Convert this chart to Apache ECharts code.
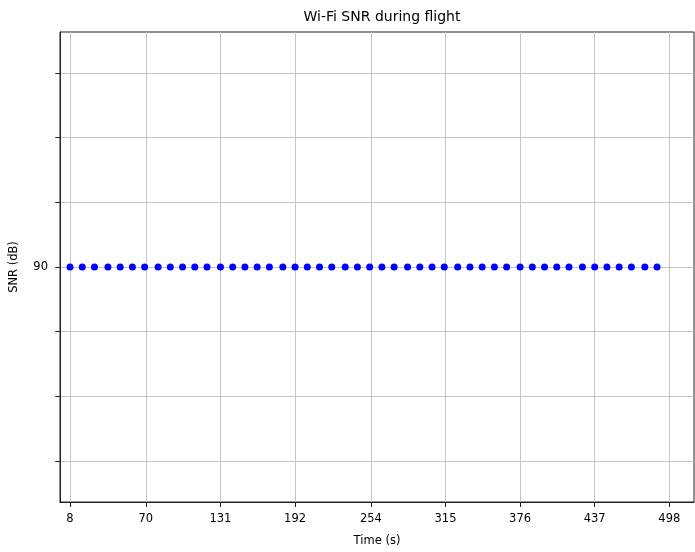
<!DOCTYPE html>
<html>
<head>
<meta charset="utf-8">
<script src="https://cdn.jsdelivr.net/npm/echarts@6/dist/echarts.min.js"></script>
<style>html,body{margin:0;padding:0;background:#fff;}#c{width:695px;height:552px;}</style>
</head>
<body>
<div id="c"></div>
<script>
const timeValues = [8,18,28,39,49,59,69,80,90,100,110,120,131,141,151,161,171,182,192,202,212,222,233,243,253,263,273,284,294,304,314,325,335,345,355,365,376,386,396,406,416,427,437,447,457,467,478,488];
const snrValues = [90,90,90,90,90,90,90,90,90,90,90,90,90,90,90,90,90,90,90,90,90,90,90,90,90,90,90,90,90,90,90,90,90,90,90,90,90,90,90,90,90,90,90,90,90,90,90,90];
const xTicks = [8,70,131,192,254,315,376,437,498];
const yTicks = [87,88,89,90,91,92,93];
const yLabelTicks = [90];

const chart = echarts.init(document.getElementById('c'), null, {renderer:'canvas'});
const font = 'DejaVu Sans';
chart.setOption({
  animation:false,
  backgroundColor:'#fff',
  title:{text:'Wi-Fi SNR during flight', left:377, top:5, textAlign:'center',
    textStyle:{fontFamily:font, fontSize:14, fontWeight:'normal', color:'#000'}},
  grid:{left:60, right:1, top:32, bottom:48, show:true, borderColor:'#222', borderWidth:1, backgroundColor:'transparent'},
  xAxis:{type:'value', min:-0.2, max:518.2,
    name:'Time (s)', nameLocation:'middle', nameGap:33,
    nameTextStyle:{fontFamily:font, fontSize:11.5, color:'#000'},
    axisLine:{show:true, lineStyle:{color:'#222', width:1}},
    axisTick:{show:true, length:5, inside:false, customValues:xTicks, lineStyle:{color:'#222'}},
    axisLabel:{customValues:xTicks, margin:11, fontFamily:font, fontSize:11.5, color:'#000'},
    splitLine:{show:true, lineStyle:{color:'#c4c4c4', width:1}}
  },
  yAxis:{type:'value', min:86.37, max:93.63,
    name:'SNR (dB)', nameLocation:'middle', nameGap:40,
    nameTextStyle:{fontFamily:font, fontSize:11.5, color:'#000'},
    axisLine:{show:true, lineStyle:{color:'#222', width:1}},
    axisTick:{show:true, length:5, inside:false, customValues:yTicks, lineStyle:{color:'#222'}},
    axisLabel:{customValues:yLabelTicks, margin:12, fontFamily:font, fontSize:11.5, color:'#000'},
    splitLine:{show:true, lineStyle:{color:'#c4c4c4', width:1}}
  },
  series:[{type:'scatter', data:timeValues.map((t,i)=>[t,snrValues[i]]),
    symbol:'circle', symbolSize:7, itemStyle:{color:'#0000ff', opacity:1}}]
});
</script>
</body>
</html>
